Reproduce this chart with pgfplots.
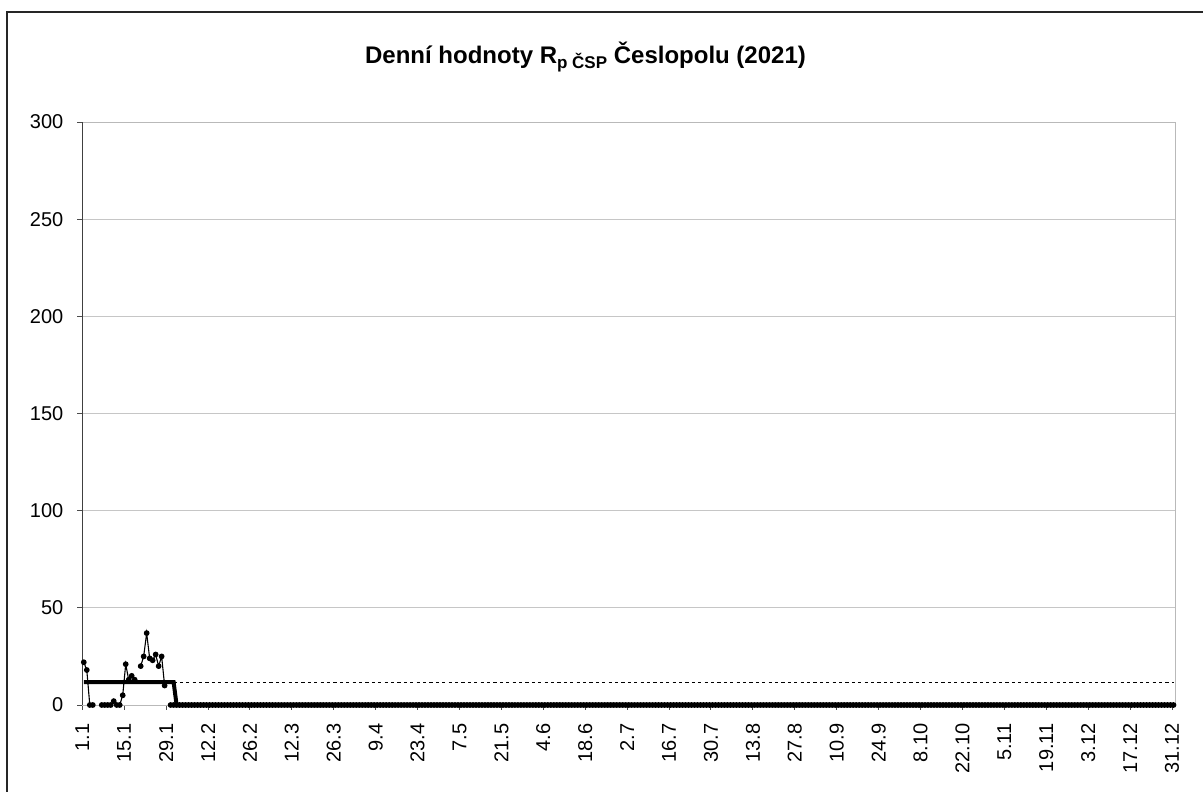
\documentclass[border=0pt]{standalone}
\usepackage{pgfplots}
\pgfplotsset{compat=1.18}
\usepackage{fontspec}
\setmainfont{Liberation Sans}
\begin{document}
\begin{tikzpicture}
\useasboundingbox (-41.15bp,-43.5bp) rectangle (560.35bp,352.5bp);
\draw[line width=0.6bp, black!85] (-37.65bp,-80bp) -- (-37.65bp,346.5bp) -- (620bp,346.5bp);
\begin{axis}[
  at={(0,0)}, anchor=south west,
  scale only axis, width=546.35bp, height=291.5bp,
  xmin=0.5, xmax=365.5, ymin=0, ymax=300,
  ytick={0,50,100,150,200,250,300},
  xtick={0.5,14.5,...,364.5},
  xticklabels={1.1,15.1,29.1,12.2,26.2,12.3,26.3,9.4,23.4,7.5,21.5,4.6,18.6,2.7,16.7,30.7,13.8,27.8,10.9,24.9,8.10,22.10,5.11,19.11,3.12,17.12,31.12},
  xtick pos=bottom, ytick pos=left,
  tick align=outside, major tick length=2.5bp,
  tick style={black!70, line width=0.5bp},
  ymajorgrids, grid style={gray!45, line width=0.5bp},
  axis line style={draw=gray!55, line width=0.5bp},
  /pgf/number format/assume math mode=true,
  tick label style={font=\fontsize{10bp}{11bp}\selectfont},
  x tick label style={rotate=90, anchor=east, xshift=-3.2bp},
  y tick label style={xshift=-3.5bp},
  unbounded coords=jump,
  clip=false,
]
\addplot[black, line width=0.5bp, dashed, dash pattern=on 1.6bp off 1.6bp] coordinates {(1,11.8)(365,11.8)};
\addplot[black, line width=2bp] coordinates {(1,11.8)(31,11.8)(32,0)(365,0)};
\addplot[black, line width=0.55bp, mark=*, mark size=1.15bp, mark options={fill=black}] coordinates {
(1,22)(2,18)(3,0)(4,0)(5,nan)(6,nan)(7,0)(8,0)(9,0)(10,0)
(11,2)(12,0)(13,0)(14,5)(15,21)(16,13)(17,15)(18,13)(19,nan)(20,20)
(21,25)(22,37)(23,24)(24,23)(25,26)(26,20)(27,25)(28,10)(29,nan)
(30,0)(31,0)(32,0)(33,0)(34,0)(35,0)(36,0)(37,0)(38,0)(39,0)
(40,0)(41,0)(42,0)(43,0)(44,0)(45,0)(46,0)(47,0)(48,0)(49,0)
(50,0)(51,0)(52,0)(53,0)(54,0)(55,0)(56,0)(57,0)(58,0)(59,0)
(60,0)(61,0)(62,0)(63,0)(64,0)(65,0)(66,0)(67,0)(68,0)(69,0)
(70,0)(71,0)(72,0)(73,0)(74,0)(75,0)(76,0)(77,0)(78,0)(79,0)
(80,0)(81,0)(82,0)(83,0)(84,0)(85,0)(86,0)(87,0)(88,0)(89,0)
(90,0)(91,0)(92,0)(93,0)(94,0)(95,0)(96,0)(97,0)(98,0)(99,0)
(100,0)(101,0)(102,0)(103,0)(104,0)(105,0)(106,0)(107,0)(108,0)(109,0)
(110,0)(111,0)(112,0)(113,0)(114,0)(115,0)(116,0)(117,0)(118,0)(119,0)
(120,0)(121,0)(122,0)(123,0)(124,0)(125,0)(126,0)(127,0)(128,0)(129,0)
(130,0)(131,0)(132,0)(133,0)(134,0)(135,0)(136,0)(137,0)(138,0)(139,0)
(140,0)(141,0)(142,0)(143,0)(144,0)(145,0)(146,0)(147,0)(148,0)(149,0)
(150,0)(151,0)(152,0)(153,0)(154,0)(155,0)(156,0)(157,0)(158,0)(159,0)
(160,0)(161,0)(162,0)(163,0)(164,0)(165,0)(166,0)(167,0)(168,0)(169,0)
(170,0)(171,0)(172,0)(173,0)(174,0)(175,0)(176,0)(177,0)(178,0)(179,0)
(180,0)(181,0)(182,0)(183,0)(184,0)(185,0)(186,0)(187,0)(188,0)(189,0)
(190,0)(191,0)(192,0)(193,0)(194,0)(195,0)(196,0)(197,0)(198,0)(199,0)
(200,0)(201,0)(202,0)(203,0)(204,0)(205,0)(206,0)(207,0)(208,0)(209,0)
(210,0)(211,0)(212,0)(213,0)(214,0)(215,0)(216,0)(217,0)(218,0)(219,0)
(220,0)(221,0)(222,0)(223,0)(224,0)(225,0)(226,0)(227,0)(228,0)(229,0)
(230,0)(231,0)(232,0)(233,0)(234,0)(235,0)(236,0)(237,0)(238,0)(239,0)
(240,0)(241,0)(242,0)(243,0)(244,0)(245,0)(246,0)(247,0)(248,0)(249,0)
(250,0)(251,0)(252,0)(253,0)(254,0)(255,0)(256,0)(257,0)(258,0)(259,0)
(260,0)(261,0)(262,0)(263,0)(264,0)(265,0)(266,0)(267,0)(268,0)(269,0)
(270,0)(271,0)(272,0)(273,0)(274,0)(275,0)(276,0)(277,0)(278,0)(279,0)
(280,0)(281,0)(282,0)(283,0)(284,0)(285,0)(286,0)(287,0)(288,0)(289,0)
(290,0)(291,0)(292,0)(293,0)(294,0)(295,0)(296,0)(297,0)(298,0)(299,0)
(300,0)(301,0)(302,0)(303,0)(304,0)(305,0)(306,0)(307,0)(308,0)(309,0)
(310,0)(311,0)(312,0)(313,0)(314,0)(315,0)(316,0)(317,0)(318,0)(319,0)
(320,0)(321,0)(322,0)(323,0)(324,0)(325,0)(326,0)(327,0)(328,0)(329,0)
(330,0)(331,0)(332,0)(333,0)(334,0)(335,0)(336,0)(337,0)(338,0)(339,0)
(340,0)(341,0)(342,0)(343,0)(344,0)(345,0)(346,0)(347,0)(348,0)(349,0)
(350,0)(351,0)(352,0)(353,0)(354,0)(355,0)(356,0)(357,0)(358,0)(359,0)
(360,0)(361,0)(362,0)(363,0)(364,0)(365,0)
};
\draw[black!75, line width=0.6bp] (rel axis cs:0,0) -- (rel axis cs:0,1);
\end{axis}
\node[anchor=base, font=\fontsize{12bp}{14bp}\selectfont\bfseries] at (251.6bp,320.5bp)
  {Denní hodnoty R\raisebox{-0.35ex}{\fontsize{8.5bp}{9bp}\selectfont p ČSP} Česlopolu (2021)};
\end{tikzpicture}
\end{document}
